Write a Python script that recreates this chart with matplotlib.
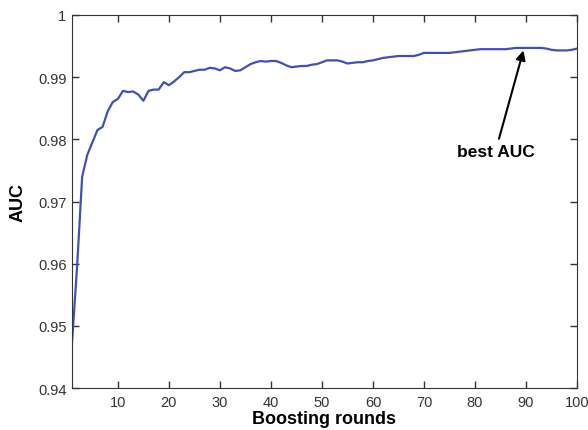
import numpy as np
import matplotlib
matplotlib.use('Agg')
import matplotlib.pyplot as plt
from matplotlib.ticker import FormatStrFormatter

plt.rcParams['font.family'] = ['Liberation Sans', 'DejaVu Sans']

# AUC per boosting round
rounds = list(range(1, 101))
auc = [
    0.9472, 0.9595, 0.9740, 0.9775, 0.9795, 0.9815, 0.9820, 0.9845, 0.9860, 0.9865,
    0.9878, 0.9876, 0.9877, 0.9872, 0.9862, 0.9878, 0.9880, 0.9880, 0.9892, 0.9887,
    0.9893, 0.9900, 0.9908, 0.9908, 0.9910, 0.9912, 0.9912, 0.9915, 0.9914, 0.9911,
    0.9916, 0.9914, 0.9910, 0.9911, 0.9916, 0.9921, 0.9924, 0.9926, 0.9925, 0.9926,
    0.9926, 0.9923, 0.9919, 0.9916, 0.9917, 0.9918, 0.9918, 0.9920, 0.9921, 0.9924,
    0.9927, 0.9927, 0.9927, 0.9925, 0.9922, 0.9923, 0.9924, 0.9924, 0.9926, 0.9927,
    0.9929, 0.9931, 0.9932, 0.9933, 0.9934, 0.9934, 0.9934, 0.9934, 0.9936, 0.9939,
    0.9939, 0.9939, 0.9939, 0.9939, 0.9939, 0.9940, 0.9941, 0.9942, 0.9943, 0.9944,
    0.9945, 0.9945, 0.9945, 0.9945, 0.9945, 0.9945, 0.9946, 0.9947, 0.9947, 0.9947,
    0.9947, 0.9947, 0.9947, 0.9946, 0.9944, 0.9943, 0.9943, 0.9943, 0.9944, 0.9946,
]
xticks = [10, 20, 30, 40, 50, 60, 70, 80, 90, 100]
yticks = [0.94, 0.95, 0.96, 0.97, 0.98, 0.99, 1.0]

best_round = 89.5
best_auc = 0.9943

fig = plt.figure(figsize=(5.88, 4.31), dpi=100)
ax = fig.add_axes([0.1224, 0.0974, 0.8589, 0.8655])

ax.plot(rounds, auc, color='#3f51b9', lw=1.6)

ax.set_xlim(1, 100)
ax.set_ylim(0.94, 1.0)
ax.set_xticks(xticks)
ax.set_yticks(yticks)
ax.yaxis.set_major_formatter(FormatStrFormatter('%g'))
ax.tick_params(direction='in', top=True, right=True, length=5, width=1,
               labelsize=10.5, colors='#333333', pad=5)
ax.tick_params(axis='y', pad=4)
for s in ax.spines.values():
    s.set_color('#333333')

ax.set_xlabel('Boosting rounds', fontsize=13, fontweight='bold', labelpad=1)
ax.set_ylabel('AUC', fontsize=13, fontweight='bold', labelpad=8)

ax.annotate('best AUC', xy=(best_round, best_auc), xytext=(84, 0.978),
            ha='center', va='center', fontsize=12.5, fontweight='bold',
            arrowprops=dict(arrowstyle='-|>', color='black', lw=1.5,
                            mutation_scale=14, shrinkA=2, shrinkB=0))

fig.savefig('out.png', dpi=100)
